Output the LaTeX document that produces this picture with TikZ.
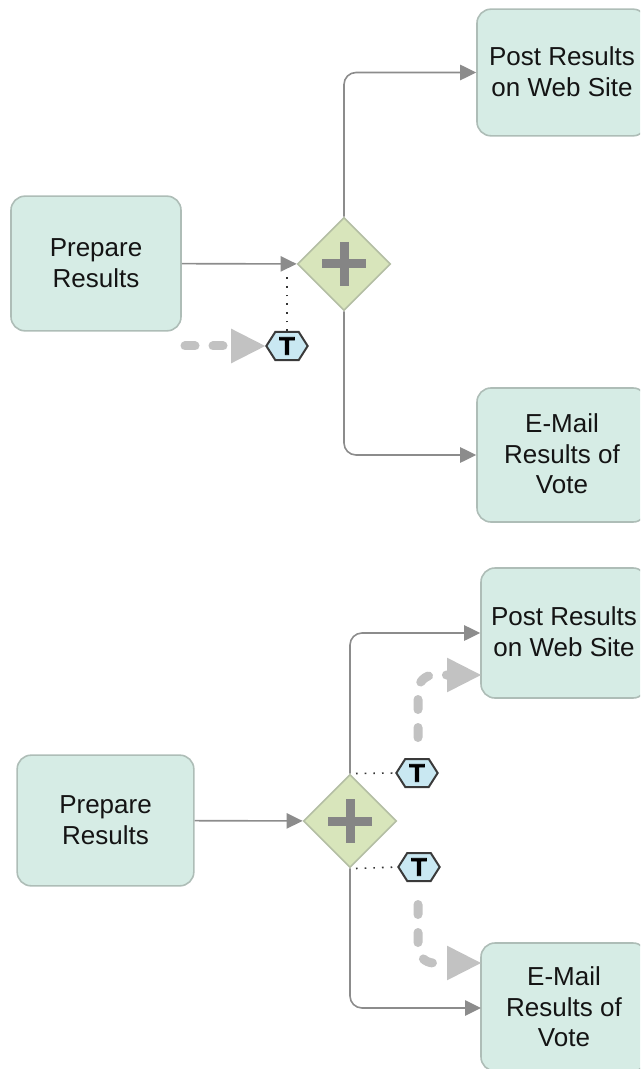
\documentclass[tikz,border=0pt]{standalone}
\usepackage{fontspec}
\setmainfont{Liberation Sans}
\newfontfamily\hexfont[BoldFeatures={FakeBold=2.5}]{Liberation Sans}
\usetikzlibrary{arrows.meta,shapes.geometric,shapes.symbols}
\definecolor{boxfill}{HTML}{D6ECE5}
\definecolor{boxline}{HTML}{AEBDB7}
\definecolor{gatefill}{HTML}{D8E5BB}
\definecolor{gateline}{HTML}{B4BEA4}
\definecolor{plusc}{HTML}{858585}
\definecolor{flowc}{HTML}{8C8C8C}
\definecolor{dashc}{HTML}{C2C2C2}
\definecolor{hexfill}{HTML}{C9E8F2}
\definecolor{hexline}{HTML}{3A3A3A}
\newcommand{\liftline}{\rule[-1.8pt]{0pt}{1.8pt}}
\tikzset{
  x=0.75pt,y=-0.75pt,
  taskbox/.style={draw=boxline,fill=boxfill,line width=1.2pt,rounded corners=10.5pt,inner sep=0pt,align=center,text=black!92,
    font=\fontsize{19.5}{23}\selectfont},
  gate/.style={diamond,aspect=1,draw=gateline,fill=gatefill,line width=1.2pt,inner sep=0pt,minimum width=70pt,minimum height=70pt},
  plusbar/.style={draw=plusc,line width=6.75pt},
  flow/.style={draw=flowc,line width=1.2pt,rounded corners=9pt,-{Triangle[length=12pt,width=11.5pt,fill=flowc]}},
  assoc/.style={draw=black!80,line width=1.2pt,dash pattern=on 1.2pt off 5.3pt},
  dataflow/.style={draw=dashc,line width=6.75pt,line cap=round,rounded corners=12pt,dash pattern=on 7.5pt off 13.5pt,
    -{Triangle[length=25.5pt,width=26pt,round=false,line width=0pt,fill=dashc]}},
  hex/.style={signal,signal to=east and west,signal pointer angle=115,draw=hexline,fill=hexfill,line width=1.5pt,
    inner sep=0pt,minimum width=31pt,minimum height=21pt,text=black,font=\hexfont\bfseries\fontsize{19}{19}\selectfont}
}
\begin{document}
\begin{tikzpicture}
\useasboundingbox (0,0) rectangle (640,1069);
\clip (0,0) rectangle (640,1069);
% upper diagram
\node[taskbox,minimum width=127.5pt,minimum height=101pt] (prep1) at (96,263.5) {Prepare\\Results};
\node[taskbox,minimum width=127.5pt,minimum height=95pt] (post1) at (562,72.5) {Post Results\\on Web Site\liftline};
\node[taskbox,minimum width=127.5pt,minimum height=100.5pt] (mail1) at (562,455) {E-Mail\\Results of\\Vote\liftline};
\node[gate] (gate1) at (344,264) {};
\draw[plusbar] (344,242) -- (344,286);
\draw[plusbar] (322,264) -- (366,264);
\node[hex] (hex1) at (287,346) {T};
\coordinate (dash1s) at (185,346);
\coordinate (assoc1) at (287,272);
\draw[flow] (prep1) -- (gate1);
\draw[flow] (gate1.north) |- (post1.west);
\draw[flow] (gate1.south) |- (mail1.west);
\draw[assoc] (hex1.north) -- (assoc1);
\draw[dataflow] (dash1s) -- (hex1.west);
% lower diagram
\node[taskbox,minimum width=132.5pt,minimum height=98pt] (prep2) at (105.5,820.5) {Prepare\\Results};
\node[taskbox,minimum width=124.5pt,minimum height=97.5pt] (post2) at (564,633) {Post Results\\on Web Site\liftline};
\node[taskbox,minimum width=124.5pt,minimum height=96pt] (mail2) at (564,1007) {E-Mail\\Results of\\Vote};
\node[gate] (gate2) at (350,821) {};
\draw[plusbar] (350,799) -- (350,843);
\draw[plusbar] (328,821) -- (372,821);
\node[hex] (hex2) at (417,773) {T};
\node[hex] (hex3) at (419,867) {T};
\coordinate (dash2s) at (418,737.5);
\coordinate (dash2e) at (481,675);
\coordinate (dash3s) at (418,904.5);
\coordinate (dash3e) at (481,963);
\coordinate (mail2in) at (481,1008);
\draw[flow] (prep2) -- (gate2);
\draw[flow] (gate2.north) |- (post2.west);
\draw[flow] (gate2.south) |- (mail2in);
\draw[assoc] (gate2.north) ++(6,0) -- (hex2.west);
\draw[assoc] (gate2.south) ++(6,0) -- (hex3.west);
\draw[dataflow] (dash2s) |- (dash2e);
\draw[dataflow] (dash3s) |- (dash3e);
\end{tikzpicture}
\end{document}
